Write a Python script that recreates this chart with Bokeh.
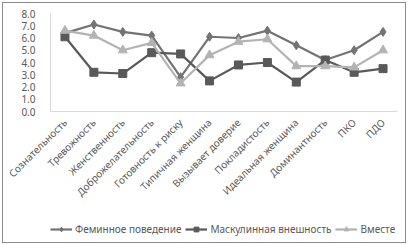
import math
from bokeh.plotting import figure
from bokeh.layouts import column
from bokeh.models import FactorRange, Range1d, FixedTicker, Legend, LegendItem, CustomJSTickFormatter
from bokeh.embed import file_html
from bokeh.resources import INLINE

categories = ["Сознательность", "Тревожность", "Женственность", "Доброжелательность",
              "Готовность к риску", "Типичная женщина", "Вызывает доверие", "Покладистость",
              "Идеальная женщина", "Доминантность", "ПКО", "ПДО"]
feminine = [6.4, 7.1, 6.5, 6.2, 2.8, 6.1, 6.0, 6.6, 5.4, 4.2, 5.0, 6.5]
masculine = [6.1, 3.2, 3.1, 4.8, 4.7, 2.5, 3.8, 4.0, 2.4, 4.2, 3.2, 3.5]
together = [6.6, 6.2, 5.0, 5.6, 2.3, 4.6, 5.7, 5.9, 3.7, 3.7, 3.6, 5.0]
y_ticks = [0, 1, 2, 3, 4, 5, 6, 7, 8]
series_names = ["Феминное поведение", "Маскулинная внешность", "Вместе"]

FONT = "Noto Sans"
TXT = "#595959"

p = figure(width=408, height=211, output_backend="svg", toolbar_location=None,
           x_range=FactorRange(*categories, range_padding=0), y_range=Range1d(0, 8),
           min_border_left=50, min_border_top=13, min_border_right=11, min_border_bottom=100)
p.background_fill_color = "white"
p.border_fill_color = None
p.outline_line_color = None
p.xgrid.grid_line_color = None
p.ygrid.grid_line_color = None

p.yaxis.ticker = FixedTicker(ticks=y_ticks)
p.yaxis.formatter = CustomJSTickFormatter(code="return tick.toFixed(1);")
for ax in (p.xaxis[0], p.yaxis[0]):
    ax.axis_line_color = "#d9d9d9"
    ax.major_tick_line_color = None
    ax.minor_tick_line_color = None
    ax.major_label_text_font = FONT
    ax.major_label_text_font_size = "10px"
    ax.major_label_text_color = TXT
p.yaxis.major_label_standoff = 9
p.xaxis.major_label_orientation = math.pi / 4
p.xaxis.major_label_standoff = 3

c_fem = "#737373"
c_mas = "#595959"
c_tog = "#b3b3b3"

p.line(categories, feminine, line_color=c_fem, line_width=2.2)
p.scatter(categories, feminine, marker="diamond", size=9, fill_color=c_fem, line_color=c_fem)
p.line(categories, masculine, line_color=c_mas, line_width=2.2)
p.scatter(categories, masculine, marker="square", size=8, fill_color=c_mas, line_color=c_mas)
p.line(categories, together, line_color=c_tog, line_width=2.2)
p.scatter(categories, together, marker="triangle", size=9, fill_color=c_tog, line_color=c_tog)

# legend strip below the chart (its series sit outside the visible range; only the legend shows)
idx = list(range(len(categories)))
lg = figure(width=408, height=34, output_backend="svg", toolbar_location=None,
            x_range=Range1d(0, 1), y_range=Range1d(-10, -9),
            x_axis_location=None, y_axis_location=None, min_border=0)
lg.outline_line_color = None
lg.border_fill_color = None
lg.background_fill_color = None
lg.xgrid.grid_line_color = None
lg.ygrid.grid_line_color = None
l1 = lg.line(idx, feminine, line_color=c_fem, line_width=2.2)
m1 = lg.scatter(idx, feminine, marker="diamond", size=7, fill_color=c_fem, line_color=c_fem)
l2 = lg.line(idx, masculine, line_color=c_mas, line_width=2.2)
m2 = lg.scatter(idx, masculine, marker="square", size=7, fill_color=c_mas, line_color=c_mas)
l3 = lg.line(idx, together, line_color=c_tog, line_width=2.2)
m3 = lg.scatter(idx, together, marker="triangle", size=7, fill_color=c_tog, line_color=c_tog)

legend = Legend(items=[LegendItem(label=series_names[0], renderers=[l1, m1]),
                       LegendItem(label=series_names[1], renderers=[l2, m2]),
                       LegendItem(label=series_names[2], renderers=[l3, m3])],
                orientation="horizontal", location=(0, 9),
                label_text_font=FONT, label_text_font_size="10px", label_text_color=TXT,
                glyph_width=22, glyph_height=12, spacing=4, padding=2, margin=0,
                label_standoff=3, border_line_color=None, background_fill_alpha=0)
lg.add_layout(legend, "center")

layout = column(p, lg, spacing=0)
layout.styles = {"outline": "1px solid #8c8c8c", "outline-offset": "-3px"}

open("out.html", "w").write(file_html(layout, INLINE))
